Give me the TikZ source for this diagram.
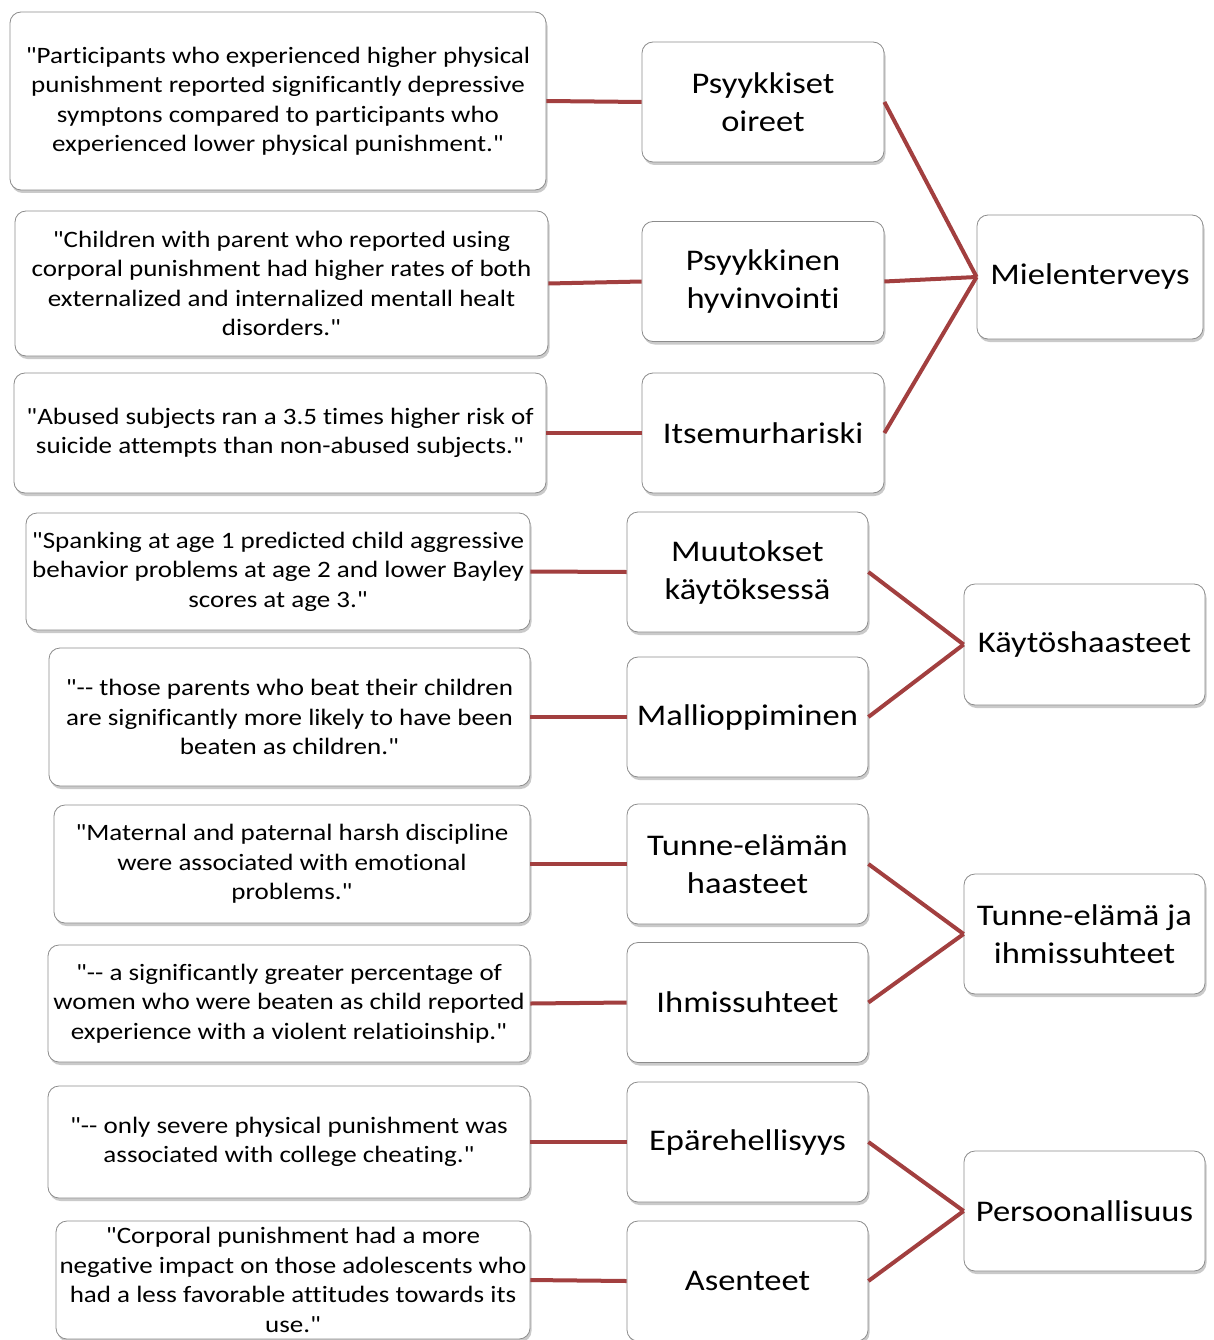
\documentclass[tikz,border=0pt]{standalone}
\usepackage{fontspec}
\setmainfont{Carlito}[Ligatures={TeXOff,NoCommon}, FakeStretch=1.15]
\usetikzlibrary{shadows}
\definecolor{linkred}{HTML}{A23F3F}
\tikzset{
  box/.style={draw=black!45, line width=0.8pt, rounded corners=11pt, fill=white,
    drop shadow={shadow xshift=1.5pt, shadow yshift=-3pt, opacity=0.35, fill=black!60},
    align=center, inner sep=0pt},
  quote/.style={box, font=\fontsize{23.5}{29.5}\selectfont},
  mid/.style={box, font=\fontsize{30}{38}\selectfont, minimum width=242pt, minimum height=120pt},
  link/.style={draw=linkred, line width=4pt},
}
\begin{document}
\begin{tikzpicture}[x=1pt,y=-1pt]
\useasboundingbox (0,0) rectangle (1214,1340);
% quote boxes
\node[quote, minimum width=536pt, minimum height=178pt] (q1) at (278,101) {"Participants who experienced higher physical\\punishment reported significantly depressive\\symptons compared to participants who\\experienced lower physical punishment."};
\node[quote, minimum width=533pt, minimum height=145pt] (q2) at (281.5,283.5) {"Children with parent who reported using\\corporal punishment had higher rates of both\\externalized and internalized mentall healt\\disorders."};
\node[quote, minimum width=532pt, minimum height=120pt] (q3) at (280,433) {"Abused subjects ran a 3.5 times higher risk of\\suicide attempts than non-abused subjects."};
\node[quote, minimum width=504pt, minimum height=117pt] (q4) at (278,571.5) {"Spanking at age 1 predicted child aggressive\\behavior problems at age 2 and lower Bayley\\scores at age 3."};
\node[quote, minimum width=481pt, minimum height=138pt] (q5) at (289.5,717) {"-- those parents who beat their children\\are significantly more likely to have been\\beaten as children."};
\node[quote, minimum width=476pt, minimum height=118pt] (q6) at (292,864) {"Maternal and paternal harsh discipline\\were associated with emotional\\problems."};
\node[quote, minimum width=482pt, minimum height=117pt] (q7) at (289,1003.5) {"-- a significantly greater percentage of\\women who were beaten as child reported\\experience with a violent relatioinship."};
\node[quote, minimum width=482pt, minimum height=112pt] (q8) at (289,1142) {"-- only severe physical punishment was\\associated with college cheating."};
\node[quote, minimum width=474pt, minimum height=118pt] (q9) at (293,1280) {"Corporal punishment had a more\\negative impact on those adolescents who\\had a less favorable attitudes towards its\\use."};
% middle boxes
\node[mid] (a) at (763,102) {Psyykkiset\\oireet};
\node[mid] (b) at (763,281.5) {Psyykkinen\\hyvinvointi};
\node[mid] (c) at (763,433) {Itsemurhariski};
\node[mid, minimum width=241pt] (d) at (747.5,572) {Muutokset\\käytöksessä};
\node[mid, minimum width=241pt] (e) at (747.5,717) {Mallioppiminen};
\node[mid, minimum width=241pt] (f) at (747.5,864) {Tunne-elämän\\haasteet};
\node[mid, minimum width=241pt] (g) at (747.5,1002.5) {Ihmissuhteet};
\node[mid, minimum width=241pt] (h) at (747.5,1142) {Epärehellisyys};
\node[mid, minimum width=241pt] (i) at (747.5,1281) {Asenteet};
% right boxes
\node[mid, minimum width=226pt, minimum height=124pt] (m1) at (1090,277) {Mielenterveys};
\node[mid, minimum width=241pt, minimum height=121pt] (m2) at (1084.5,644.5) {Käytöshaasteet};
\node[mid, minimum width=241pt, minimum height=120pt] (m3) at (1084.5,934) {Tunne-elämä ja\\ihmissuhteet};
\node[mid, minimum width=241pt, minimum height=120pt] (m4) at (1084.5,1211) {Persoonallisuus};
% links
\draw[link] (q1.east) -- (a.west);
\draw[link] (q2.east) -- (b.west);
\draw[link] (q3.east) -- (c.west);
\draw[link] (q4.east) -- (d.west);
\draw[link] (q5.east) -- (e.west);
\draw[link] (q6.east) -- (f.west);
\draw[link] (q7.east) -- (g.west);
\draw[link] (q8.east) -- (h.west);
\draw[link] (q9.east) -- (i.west);
\draw[link] (a.east) -- (m1.west);
\draw[link] (b.east) -- (m1.west);
\draw[link] (c.east) -- (m1.west);
\draw[link] (d.east) -- (m2.west);
\draw[link] (e.east) -- (m2.west);
\draw[link] (f.east) -- (m3.west);
\draw[link] (g.east) -- (m3.west);
\draw[link] (h.east) -- (m4.west);
\draw[link] (i.east) -- (m4.west);
\end{tikzpicture}
\end{document}
